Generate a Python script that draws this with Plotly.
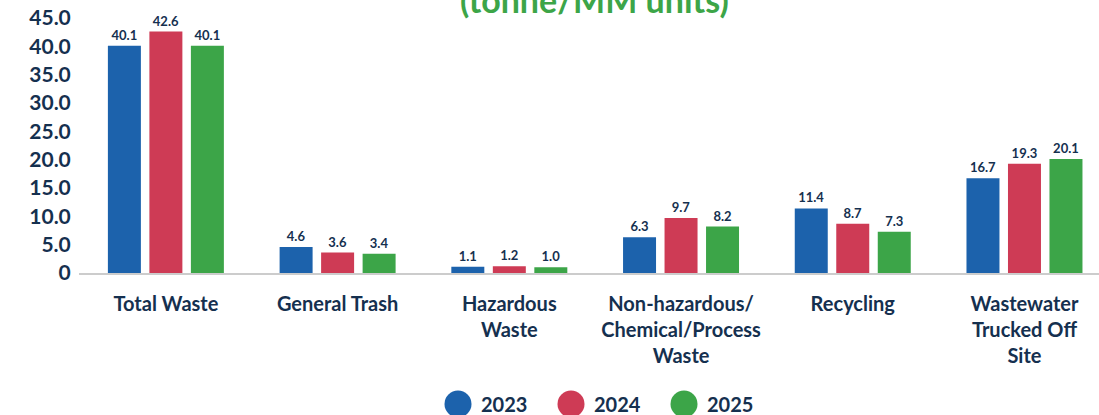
import plotly.graph_objects as go

# Waste intensity by category and year (tonne per MM units)
categories = [
    "Total Waste",
    "General Trash",
    "Hazardous<br>Waste",
    "Non-hazardous/<br>Chemical/Process<br>Waste",
    "Recycling",
    "Wastewater<br>Trucked Off<br>Site",
]
years = ["2023", "2024", "2025"]
values_2023 = [40.1, 4.6, 1.1, 6.3, 11.4, 16.7]
values_2024 = [42.6, 3.6, 1.2, 9.7, 8.7, 19.3]
values_2025 = [40.1, 3.4, 1.0, 8.2, 7.3, 20.1]
y_ticks = [0, 5, 10, 15, 20, 25, 30, 35, 40, 45]
y_tick_labels = ["0", "5.0", "10.0", "15.0", "20.0", "25.0", "30.0", "35.0", "40.0", "45.0"]

colors = ["#1C62AC", "#CE3B55", "#3CA548"]
navy = "#15304F"
font_family = "Lato, 'Open Sans', sans-serif"

W, H = 1099, 415
M_L, M_R, M_T, M_B = 79, 0, 18, 142
plot_w = W - M_L - M_R
plot_h = H - M_T - M_B

fig = go.Figure()
for name, vals, col in zip(years, [values_2023, values_2024, values_2025], colors):
    fig.add_trace(go.Bar(
        x=categories,
        y=vals,
        name=name,
        marker=dict(color=col, line=dict(width=0)),
        texttemplate="%{y:.1f}",
        textposition="outside",
        textfont=dict(family=font_family, size=13, color=navy, weight=700),
        cliponaxis=False,
        showlegend=False,
    ))

# Legend drawn as large round swatches with year labels
legend_start_px = 458
legend_pitch_px = 113
legend_text_offset_px = 21
legend_y_px = 404


def px_to_paper_x(px):
    return (px - M_L) / plot_w


def px_to_paper_y(py):
    return (H - M_B - py) / plot_h


shapes = []
annotations = []
for i, (name, col) in enumerate(zip(years, colors)):
    cx = legend_start_px + i * legend_pitch_px
    shapes.append(dict(
        type="circle", xref="paper", yref="paper",
        xsizemode="pixel", ysizemode="pixel",
        xanchor=px_to_paper_x(cx), yanchor=px_to_paper_y(legend_y_px),
        x0=-13.5, x1=13.5, y0=-13.5, y1=13.5,
        fillcolor=col, line=dict(width=0),
    ))
    annotations.append(dict(
        text=name, xref="paper", yref="paper",
        x=px_to_paper_x(cx + legend_text_offset_px), y=px_to_paper_y(legend_y_px),
        xanchor="left", yanchor="middle", showarrow=False,
        font=dict(family=font_family, size=20, color=navy, weight=700),
    ))

# Subtitle line of the chart heading
annotations.append(dict(
    text="(tonne/MM units)", xref="paper", yref="paper",
    x=px_to_paper_x(594), y=1, yshift=-4,
    xanchor="center", yanchor="bottom", showarrow=False,
    font=dict(family=font_family, size=34, color="#3CA548", weight=700),
))

fig.update_layout(
    width=W, height=H,
    margin=dict(l=M_L, r=M_R, t=M_T, b=M_B, pad=0),
    paper_bgcolor="white", plot_bgcolor="white",
    barmode="group", bargap=0.275, bargroupgap=0.205,
    font=dict(family=font_family, color=navy, weight=700),
    showlegend=False,
    shapes=shapes,
    annotations=annotations,
    xaxis=dict(
        type="category",
        range=[-0.506, 5.434],
        showgrid=False, zeroline=False,
        showline=True, linecolor="#CCCCCC", linewidth=2,
        ticks="outside", ticklen=12, tickcolor="rgba(0,0,0,0)",
        tickfont=dict(family=font_family, size=20, color=navy, weight=700),
    ),
    yaxis=dict(
        range=[0, 45],
        tickvals=y_ticks, ticktext=y_tick_labels,
        showgrid=False, zeroline=False, showline=False,
        ticks="outside", ticklen=3, tickcolor="rgba(0,0,0,0)",
        tickfont=dict(family=font_family, size=21, color=navy, weight=700),
    ),
)

fig.write_html("out.html")
